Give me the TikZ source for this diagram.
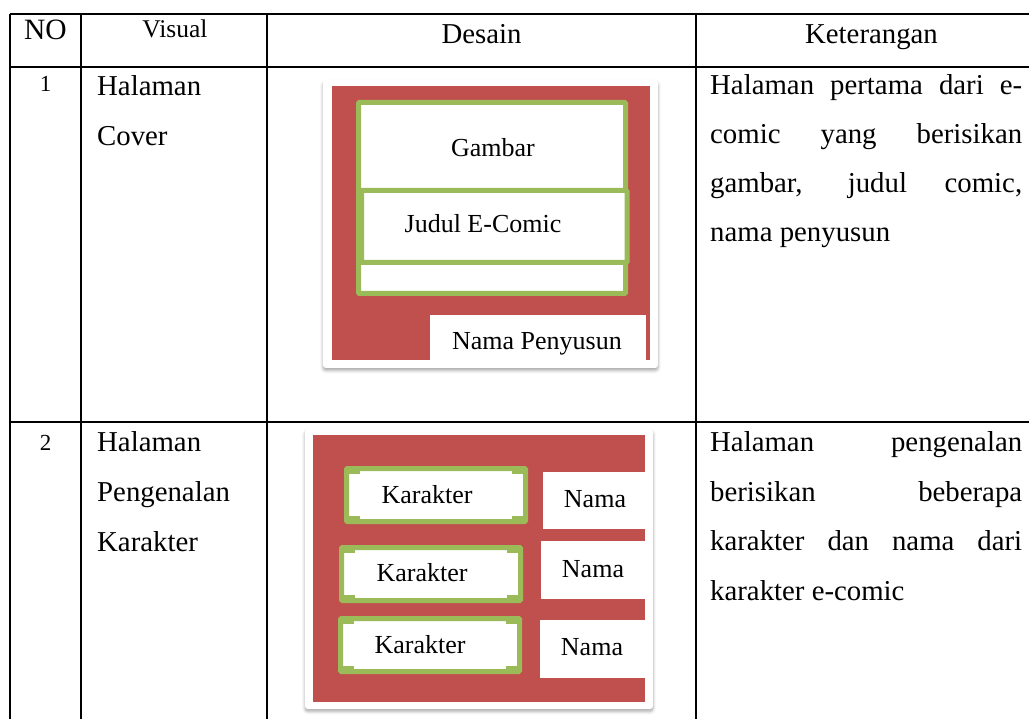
\documentclass[tikz,border=0pt]{standalone}
\usepackage{fontspec}
\setmainfont{Liberation Serif}
\usetikzlibrary{shadows.blur}
\definecolor{merah}{HTML}{C0504D}
\definecolor{hijau}{HTML}{9BBB59}
\tikzset{
  garis/.style={line width=2.6pt},
  kepala/.style={anchor=base, inner sep=0pt},
  isi/.style={anchor=base west, inner sep=0pt, text width=#1pt, font=\fontsize{28.8}{50}\selectfont, execute at begin node={\tolerance=10000}},
  label/.style={anchor=base, inner sep=0pt, font=\fontsize{26}{28}\selectfont},
  kartu/.style={fill=white, rounded corners=3pt, blur shadow={shadow xshift=0pt, shadow yshift=-2.5pt, shadow blur radius=3pt, shadow opacity=35}},
  kotak/.style={draw=hijau, line width=5pt, fill=white, rounded corners=1pt}
}
\begin{document}
\begin{tikzpicture}[x=1pt,y=-1pt]
\useasboundingbox (0,0) rectangle (1029,719);
% tabel
\draw[garis] (10,14) -- (1029,14) (10,67) -- (1029,67) (10,422) -- (1029,422);
\draw[garis] (10,14) -- (10,719) (81,14) -- (81,719) (267,14) -- (267,719) (696,14) -- (696,719);
\node[kepala, font=\fontsize{29.5}{30}\selectfont] (no) at (45.5,40) {NO};
\node[kepala, font=\fontsize{25.5}{30}\selectfont] (visual) at (175,38) {Visual};
\node[kepala, font=\fontsize{28.8}{30}\selectfont] (desain) at (481.5,44) {Desain};
\node[kepala, font=\fontsize{28.8}{30}\selectfont] (ket) at (871.5,44) {Keterangan};
\node[kepala, font=\fontsize{23}{30}\selectfont] (no1) at (45.5,92) {1};
\node[kepala, font=\fontsize{23}{30}\selectfont] (no2) at (45.5,450) {2};
\node[isi=170, align=left] (vis1) at (97,96) {Halaman\\Cover};
\node[isi=170, align=left] (vis2) at (97,452) {Halaman\\Pengenalan\\Karakter};
\node[isi=312, align=justify, font=\fontsize{28.8}{49}\selectfont] (ket1) at (710,95)
  {Halaman pertama dari e-\linebreak comic yang berisikan\linebreak gambar, judul comic,\linebreak nama penyusun};
\node[isi=312, align=justify, font=\fontsize{28.8}{49.5}\selectfont] (ket2) at (710,452)
  {Halaman pengenalan\linebreak berisikan beberapa\linebreak karakter dan nama dari\linebreak karakter e-comic};
% desain cover
\fill[kartu] (323,80) rectangle (658,368);
\fill[merah] (332,86) rectangle (650,360);
\draw[kotak] (358.5,102.5) rectangle (625.5,293.5);
\draw[hijau, line width=5pt] (358.5,190.5) -- (625.5,190.5);
\draw[kotak] (361.5,190.5) rectangle (627,262.5);
\fill[white] (430,315) rectangle (646,360);
\node[label] (gambar) at (493,157) {Gambar};
\node[label] (judul) at (483,233) {Judul E-Comic};
\node[label] (penyusun) at (537,350) {Nama Penyusun};
% desain karakter
\fill[kartu] (305,429) rectangle (653,709);
\fill[merah] (313,435) rectangle (645,702);
\foreach \a/\b in {344/466, 339/545, 338/616} {
  \draw[kotak] (\a+2.5,\b+2.5) rectangle (\a+181.5,\b+55.5);
  \fill[hijau] (\a+5,\b+5) rectangle ++(11,3);
  \fill[hijau] (\a+168,\b+5) rectangle ++(11,3);
  \fill[hijau] (\a+5,\b+50) rectangle ++(11,3);
  \fill[hijau] (\a+168,\b+50) rectangle ++(11,3);
}
\fill[white] (543,472) rectangle (645,529);
\fill[white] (541,541) rectangle (645,599);
\fill[white] (540,620) rectangle (645,678);
\node[label] (kar1) at (427,503) {Karakter};
\node[label] (kar2) at (422,581) {Karakter};
\node[label] (kar3) at (420,653) {Karakter};
\node[label] (nama1) at (595,507) {Nama};
\node[label] (nama2) at (593,577) {Nama};
\node[label] (nama3) at (592,655) {Nama};
\end{tikzpicture}
\end{document}
